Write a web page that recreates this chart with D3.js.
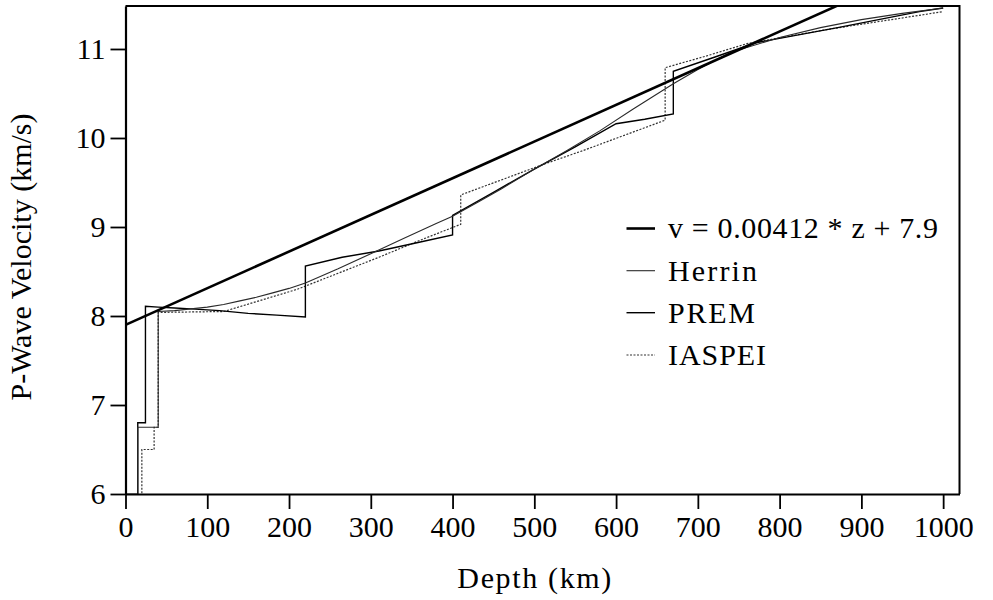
<!DOCTYPE html>
<html>
<head>
<meta charset="utf-8">
<script src="https://cdn.jsdelivr.net/npm/d3@7"></script>
<style>
  html, body { margin: 0; padding: 0; background: #fff; }
  svg { display: block; }
  svg text { font-family: "Liberation Serif", "Times New Roman", Tinos, Times, "DejaVu Serif", serif; fill: #000; }
</style>
</head>
<body>
<svg id="chart" width="993" height="600"></svg>
<script>
// Axis ticks
const depthTicks = [0, 100, 200, 300, 400, 500, 600, 700, 800, 900, 1000];
const velocityTicks = [6, 7, 8, 9, 10, 11];

// Linear fit stated in the legend: v = 0.00412 * z + 7.9
const fitSlope = 0.00412;
const fitIntercept = 7.9;
const fitDepths = [0, 1020];

// Herrin (1968) P-wave model
const herrinDepth = [0, 15, 15, 40, 40, 60, 80, 100, 120, 140, 160, 180, 200, 220, 260, 300, 340, 380, 400, 433, 460, 500, 540, 580, 620, 670, 700, 740, 800, 850, 900, 950, 1000];
const herrinVp    = [6.0, 6.0, 6.75, 6.75, 8.05, 8.06, 8.08, 8.10, 8.13, 8.17, 8.21, 8.26, 8.31, 8.37, 8.53, 8.70, 8.87, 9.04, 9.12, 9.29, 9.43, 9.65, 9.86, 10.08, 10.32, 10.61, 10.77, 10.96, 11.13, 11.24, 11.33, 11.40, 11.46];

// PREM isotropic P-wave velocity
const premDepth = [3, 15, 15, 24.4, 24.4, 40, 60, 80, 115, 150, 185, 220, 220, 265, 310, 355, 400, 400, 450, 500, 550, 600, 635, 670, 670, 721, 771, 871, 971, 1000];
const premVp    = [5.8, 5.8, 6.8, 6.8, 8.11, 8.10, 8.09, 8.08, 8.06, 8.03, 8.01, 7.99, 8.56, 8.66, 8.73, 8.82, 8.91, 9.13, 9.39, 9.65, 9.90, 10.16, 10.21, 10.27, 10.75, 10.91, 11.07, 11.24, 11.42, 11.46];

// IASPEI 1991 P-wave model
const iaspDepth = [0, 20, 20, 35, 35, 40, 40, 77.5, 120, 165, 210, 260, 310, 360, 410, 410, 460, 510, 560, 610, 660, 660, 710, 760, 809.5, 859, 908.5, 958, 1000];
const iaspVp    = [5.8, 5.8, 6.5, 6.5, 6.75, 6.75, 8.04, 8.045, 8.05, 8.175, 8.30, 8.48, 8.66, 8.85, 9.03, 9.36, 9.53, 9.70, 9.86, 10.03, 10.20, 10.79, 10.92, 11.06, 11.14, 11.22, 11.29, 11.36, 11.42];

const seriesNames = ["v = 0.00412 * z + 7.9", "Herrin", "PREM", "IASPEI"];

const svg = d3.select("#chart");
const fontSize = 30;

const x = d3.scaleLinear().domain([0, 1020]).range([125.5, 959.5]);
const y = d3.scaleLinear().domain([6, 11.483]).range([494, 6]);

// clip region for the plotted curves
svg.append("defs").append("clipPath").attr("id", "plot-clip")
  .append("rect")
  .attr("x", x(0)).attr("y", y(11.483))
  .attr("width", x(1020) - x(0)).attr("height", y(6) - y(11.483));

const zipPts = (d, v) => d.map((z, i) => [z, v[i]]);
const fitPts = fitDepths.map(z => [z, fitSlope * z + fitIntercept]);

const styles = [
  { pts: fitPts, width: 2.6, color: "#000", dash: null, textLen: 270 },
  { pts: zipPts(herrinDepth, herrinVp), width: 1.1, color: "#2a2a2a", dash: null, textLen: 89 },
  { pts: zipPts(premDepth, premVp), width: 1.4, color: "#000", dash: null, textLen: 87 },
  { pts: zipPts(iaspDepth, iaspVp), width: 1.2, color: "#333", dash: "2,1.5", textLen: 98 }
];

const line = d3.line().x(d => x(d[0])).y(d => y(d[1]));

const plot = svg.append("g").attr("clip-path", "url(#plot-clip)");
styles.slice().reverse().forEach(s => {
  plot.append("path")
    .datum(s.pts)
    .attr("d", line)
    .attr("fill", "none")
    .attr("stroke", s.color)
    .attr("stroke-width", s.width)
    .attr("stroke-dasharray", s.dash)
    .attr("stroke-linejoin", "miter");
});

// frame: top and right edges
svg.append("path")
  .attr("d", `M${x(0)},${y(11.483)}H${x(1020)}V${y(6)}`)
  .attr("fill", "none").attr("stroke", "#000").attr("stroke-width", 2);

// x axis
const xAxis = svg.append("g")
  .attr("transform", `translate(0,${y(6)})`)
  .call(d3.axisBottom(x).tickValues(depthTicks).tickSize(15).tickSizeOuter(0).tickPadding(7).tickFormat(d3.format("d")));
xAxis.attr("font-family", null).attr("font-size", fontSize);
xAxis.select(".domain").attr("stroke-width", 2.2);
xAxis.selectAll(".tick line").attr("stroke-width", 1.8);

// y axis
const yAxis = svg.append("g")
  .attr("transform", `translate(${x(0)},0)`)
  .call(d3.axisLeft(y).tickValues(velocityTicks).tickSize(15).tickSizeOuter(0).tickPadding(5).tickFormat(d3.format("d")));
yAxis.attr("font-family", null).attr("font-size", fontSize);
yAxis.select(".domain").attr("stroke-width", 2.2);
yAxis.selectAll(".tick line").attr("stroke-width", 1.8);

// axis titles
svg.append("text")
  .attr("x", (x(0) + x(1000)) / 2).attr("y", 588)
  .attr("text-anchor", "middle").attr("font-size", fontSize)
  .attr("textLength", 154).attr("lengthAdjust", "spacing")
  .text("Depth (km)");

svg.append("text")
  .attr("transform", `translate(31,257) rotate(-90)`)
  .attr("text-anchor", "middle").attr("font-size", fontSize)
  .text("P-Wave Velocity (km/s)");

// legend
const legendRows = [228.5, 270.7, 312.7, 355];
const legend = svg.append("g");
seriesNames.forEach((name, i) => {
  const s = styles[i];
  legend.append("line")
    .attr("x1", 626.5).attr("x2", 655)
    .attr("y1", legendRows[i]).attr("y2", legendRows[i])
    .attr("stroke", s.color).attr("stroke-width", s.width)
    .attr("stroke-dasharray", s.dash);
  legend.append("text")
    .attr("x", 668).attr("y", legendRows[i]).attr("dy", "0.33em")
    .attr("font-size", fontSize)
    .attr("textLength", s.textLen).attr("lengthAdjust", "spacing")
    .text(name);
});
</script>
</body>
</html>
